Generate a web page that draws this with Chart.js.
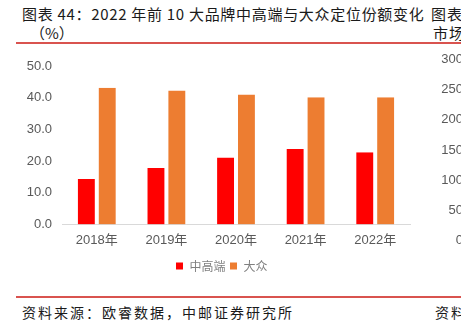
<!DOCTYPE html>
<html><head><meta charset="utf-8">
<script src="https://cdn.jsdelivr.net/npm/chart.js@4"></script>
<style>
html,body{margin:0;padding:0;background:#fff;width:461px;height:336px;overflow:hidden;position:relative;font-family:"Noto Sans CJK SC","Noto Sans",sans-serif;}
.t{position:absolute;white-space:nowrap;color:#1a1a1a;}
.rule{position:absolute;left:16px;right:0;height:2px;background:#d9534f;}
#wrap{position:absolute;left:0;top:0;width:461px;height:290px;}
.nt{position:absolute;right:-2px;font-family:"Liberation Sans",Arial,sans-serif;font-size:13px;color:#595959;text-align:right;}
</style></head><body>
<div class="t" style="left:22px;top:3px;font-size:15px;letter-spacing:0.7px;">图表 44：2022 年前 10 大品牌中高端与大众定位份额变化</div>
<div class="t" style="left:30px;top:22px;font-size:15px;">（%）</div>
<div class="t" style="left:431px;top:3px;font-size:15px;letter-spacing:1px;">图表</div>
<div class="t" style="left:433px;top:22px;font-size:15px;letter-spacing:1px;">市场</div>
<div class="rule" style="top:42px;"></div>
<div id="wrap"><canvas id="c"></canvas></div>
<div id="nticks"></div>
<div class="rule" style="top:296px;"></div>
<div class="t" style="left:22px;top:302px;font-size:14px;letter-spacing:2px;">资料来源：欧睿数据，中邮证券研究所</div>
<div class="t" style="left:435px;top:302px;font-size:14px;letter-spacing:2px;">资料</div>
<script>
const categories = ["2018年","2019年","2020年","2021年","2022年"];
const seriesNames = ["中高端","大众"];
const midHigh = [14.3, 17.8, 21.1, 23.8, 22.8];
const mass = [43.1, 42.3, 41.0, 40.1, 40.1];
const yTicks = [0,10,20,30,40,50];
const neighborTicks = ["300","250","200","150","100","50","0"];

// neighbor chart axis (cut off at right edge)
const nt = document.getElementById('nticks');
neighborTicks.forEach((t,i)=>{
  const d=document.createElement('div');d.className='nt';d.textContent=t;
  d.style.top=(51+i*30.2)+'px';nt.appendChild(d);
});

new Chart(document.getElementById('c'), {
  type:'bar',
  data:{labels:categories,datasets:[
    {label:seriesNames[0],data:midHigh,backgroundColor:'#ff0000',borderColor:'#ffffff',borderWidth:{left:2,right:2,top:0,bottom:0},borderSkipped:false},
    {label:seriesNames[1],data:mass,backgroundColor:'#ed7d31',borderColor:'#ffffff',borderWidth:{left:2,right:2,top:0,bottom:0},borderSkipped:false}
  ]},
  options:{
    responsive:true,maintainAspectRatio:false,animation:false,
    layout:{padding:{top:66,right:18,left:0,bottom:8}},
    plugins:{
      tooltip:{enabled:false},
      legend:{position:'bottom',labels:{boxWidth:8,boxHeight:8,padding:4,color:'#808080',font:{family:'"Noto Sans CJK SC"',size:12}}}
    },
    datasets:{bar:{categoryPercentage:0.6,barPercentage:1.0}},
    scales:{
      x:{grid:{display:false,drawTicks:false},border:{display:true,color:'#d9d9d9',width:1},
         ticks:{color:'#595959',padding:8,font:{family:'"Liberation Sans","Noto Sans CJK SC"',size:13}}},
      y:{min:0,max:50,afterFit:s=>{s.width=62;},
         grid:{display:false,drawTicks:false},border:{display:false},
         afterBuildTicks:s=>{s.ticks=yTicks.map(v=>({value:v}));},
         ticks:{color:'#595959',padding:10,callback:v=>v.toFixed(1),font:{family:'"Liberation Sans",Arial,sans-serif',size:13}}},
      ySpacer:{position:'right',display:true,min:0,max:50,afterFit:s=>{s.width=33;},
         grid:{display:false,drawTicks:false},border:{display:false},ticks:{display:false}}
    }
  }
});
</script>
</body></html>
